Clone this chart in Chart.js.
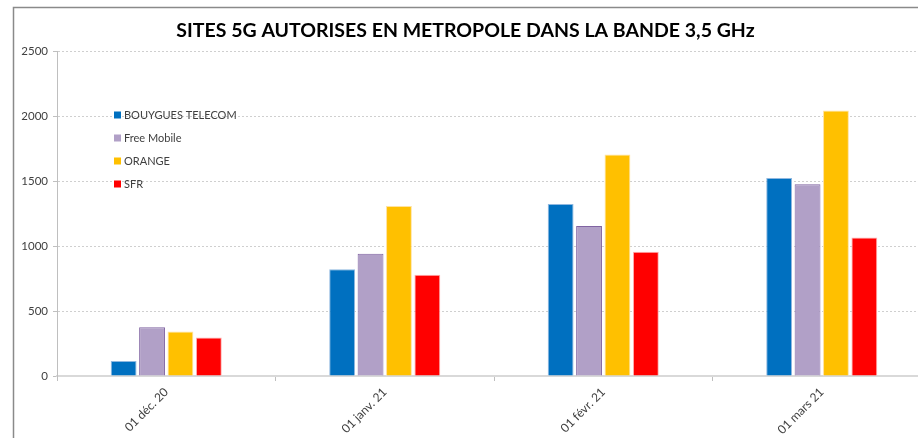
<!DOCTYPE html>
<html>
<head>
<meta charset="utf-8">
<script src="https://cdn.jsdelivr.net/npm/chart.js@4.4.1/dist/chart.umd.min.js"></script>
<style>
html,body{margin:0;padding:0;background:#fff;overflow:hidden;width:918px;height:438px}
canvas{display:block}
</style>
</head>
<body>
<canvas id="sitesChart" width="940" height="438"></canvas>
<script>
// Sites 5G autorisés, bande 3,5 GHz

const labels = ["01 déc. 20", "01 janv. 21", "01 févr. 21", "01 mars 21"];
const bouygues = [115, 823, 1325, 1525];
const free = [376, 941, 1155, 1476];
const orange = [342, 1310, 1705, 2045];
const sfr = [296, 779, 957, 1067];
const yTicks = [0, 500, 1000, 1500, 2000, 2500];

const txt = "#404040";
const fam = "Lato, 'Liberation Sans', sans-serif";

// gray frame around the whole chart
const frame = {
  id: "frame",
  beforeDraw(chart) {
    const c = chart.ctx;
    c.save();
    c.fillStyle = "#fff";
    c.fillRect(0, 0, chart.width, chart.height);
    c.strokeStyle = "#8a8a8a";
    c.lineWidth = 1.5;
    c.strokeRect(13.5, 7.5, 960, 480);
    c.restore();
  }
};

// legend drawn inside the plot, top left
const innerLegend = {
  id: "innerLegend",
  afterDraw(chart) {
    const c = chart.ctx;
    c.save();
    c.font = "11px " + fam;
    c.textBaseline = "middle";
    chart.data.datasets.forEach((ds, i) => {
      const y = 115 + i * 23;
      c.fillStyle = ds.backgroundColor;
      c.fillRect(114, y - 3.5, 7, 7);
      c.fillStyle = txt;
      c.fillText(ds.label, 124, y + 0.5);
    });
    c.restore();
  }
};

new Chart(document.getElementById("sitesChart"), {
  type: "bar",
  data: {
    labels: labels,
    datasets: [
      { label: "BOUYGUES TELECOM", data: bouygues, backgroundColor: "#0070c0", borderColor: "#8fb8e0" },
      { label: "Free Mobile", data: free, backgroundColor: "#b1a0c7", borderColor: "#8064a2" },
      { label: "ORANGE", data: orange, backgroundColor: "#ffc000", borderColor: "#ffe3a0" },
      { label: "SFR", data: sfr, backgroundColor: "#ff0000", borderColor: "#ffb0b0" }
    ].map(d => Object.assign(d, { borderWidth: 1, categoryPercentage: 0.52, barPercentage: 0.91 }))
  },
  options: {
    responsive: false,
    animation: false,
    layout: { padding: { left: 0, right: 9, top: 0, bottom: 0 } },
    plugins: {
      legend: { display: false },
      tooltip: { enabled: false },
      title: {
        display: true,
        text: "SITES 5G AUTORISES EN METROPOLE DANS LA BANDE 3,5 GHz",
        color: "#000",
        font: { family: fam, size: 19.5, weight: "bold" },
        padding: { top: 19, bottom: 9 }
      }
    },
    scales: {
      x: {
        grid: { offset: true, drawOnChartArea: false, drawTicks: true, tickLength: 5, color: "#bfbfbf" },
        border: { display: true, color: "#d9d9d9", width: 2 },
        ticks: {
          color: txt,
          font: { family: fam, size: 12 },
          minRotation: 45,
          maxRotation: 45,
          padding: 4
        },
        afterFit: s => { s.height = 62; }
      },
      y: {
        min: 0,
        max: 2500,
        afterBuildTicks: s => { s.ticks = yTicks.map(v => ({ value: v })); },
        grid: { color: "#cfcfcf", tickLength: 4, tickColor: "#bfbfbf" },
        border: { display: true, color: "#bfbfbf", width: 1, dash: [2, 2] },
        ticks: {
          color: txt,
          font: { family: fam, size: 11.5 },
          padding: 5,
          callback: v => String(v)
        },
        afterFit: s => { s.width = 57; }
      }
    }
  },
  plugins: [frame, innerLegend]
});
</script>
</body>
</html>
